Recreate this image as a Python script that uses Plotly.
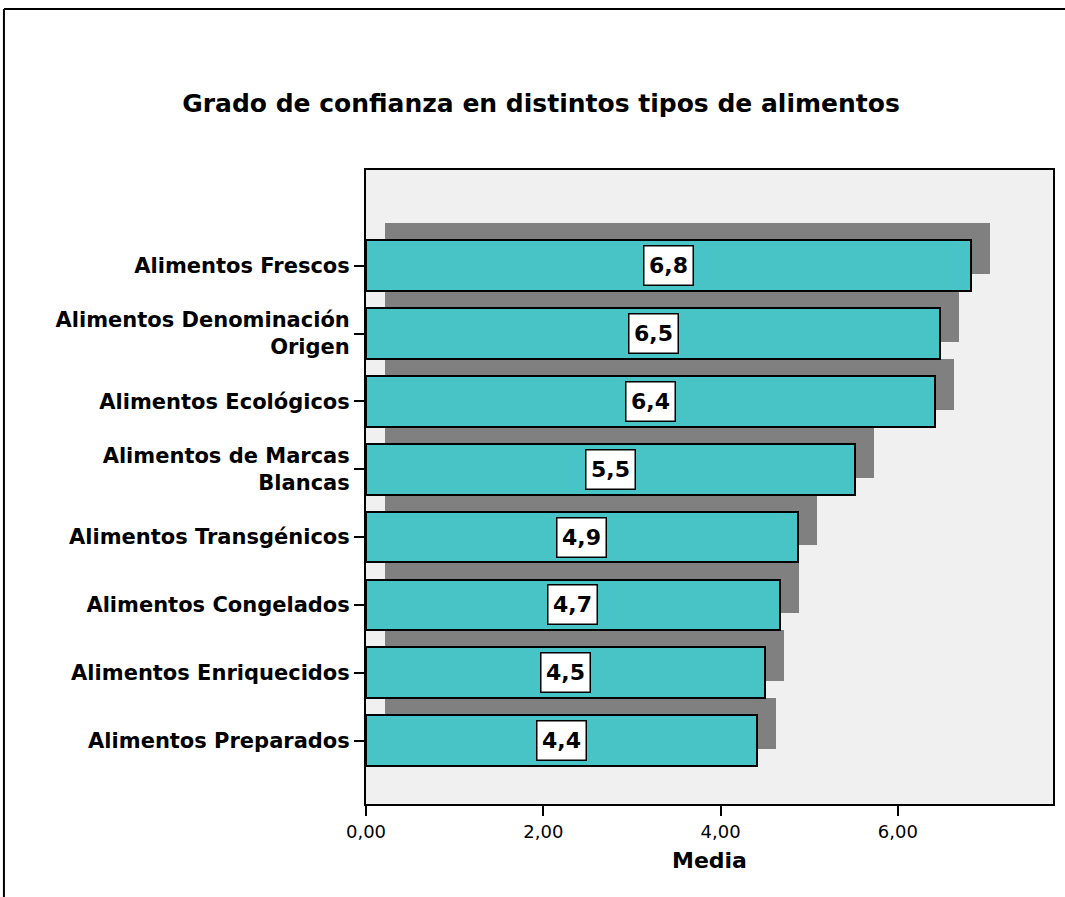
import plotly.graph_objects as go

# data
categories = [
    "Alimentos Frescos",
    "Alimentos Denominación<br>Origen",
    "Alimentos Ecológicos",
    "Alimentos de Marcas<br>Blancas",
    "Alimentos Transgénicos",
    "Alimentos Congelados",
    "Alimentos Enriquecidos",
    "Alimentos Preparados",
]
medias = [6.82, 6.48, 6.42, 5.52, 4.87, 4.67, 4.50, 4.41]
etiquetas = ["6,8", "6,5", "6,4", "5,5", "4,9", "4,7", "4,5", "4,4"]
x_ticks = [0, 2, 4, 6]
x_ticktext = ["0,00", "2,00", "4,00", "6,00"]

FONT = "DejaVu Sans"
TEAL = "#48C3C6"
SHADOW = "#808080"

pos = list(range(len(categories)))
bar_w = 0.748
shadow_dx = 0.214   # drop shadow offset (x units)
shadow_dy = -0.251  # drop shadow offset (category units, upward)

fig = go.Figure()

# drop shadow behind each bar
fig.add_trace(go.Bar(
    y=[p + shadow_dy for p in pos],
    x=medias,
    base=shadow_dx,
    orientation="h",
    width=bar_w,
    marker=dict(color=SHADOW, line=dict(width=0)),
    hoverinfo="skip",
    showlegend=False,
))

fig.add_trace(go.Bar(
    y=pos,
    x=medias,
    orientation="h",
    width=bar_w,
    marker=dict(color=TEAL, line=dict(color="black", width=2)),
    showlegend=False,
))

# white value boxes in the middle of each bar
for p, m, lab in zip(pos, medias, etiquetas):
    fig.add_annotation(
        x=m / 2, y=p, text="<b>%s</b>" % lab, showarrow=False,
        font=dict(family=FONT, size=22, color="black"),
        bgcolor="white", bordercolor="black", borderwidth=1.5,
        width=46, height=36, borderpad=1,
    )

# outer frame lines (top and left) like the original export
fig.add_shape(type="line", xref="paper", yref="paper",
              x0=-0.527, x1=1.02, y0=1.254, y1=1.254,
              line=dict(color="black", width=2))
fig.add_shape(type="line", xref="paper", yref="paper",
              x0=-0.527, x1=-0.527, y0=1.254, y1=-0.2,
              line=dict(color="black", width=2))

fig.update_layout(
    width=1065, height=897,
    margin=dict(l=366, r=10, t=170, b=93),
    paper_bgcolor="white",
    plot_bgcolor="#F0F0F0",
    bargap=0,
    title=dict(
        text="<b>Grado de confianza en distintos tipos de alimentos</b>",
        x=0.508, xref="container", xanchor="center",
        y=0.885, yref="container", yanchor="middle",
        font=dict(family=FONT, size=25, color="black"),
    ),
    font=dict(family=FONT, color="black"),
)

fig.update_xaxes(
    range=[0, 7.75],
    tickvals=x_ticks, ticktext=x_ticktext,
    tickfont=dict(family=FONT, size=18, color="black"),
    ticks="outside", ticklen=10, tickwidth=2, tickcolor="black",
    showline=True, linecolor="black", linewidth=2, mirror=True,
    showgrid=False, zeroline=False,
    title=dict(text="<b>Media</b>", font=dict(family=FONT, size=22, color="black"),
               standoff=12),
)

fig.update_yaxes(
    range=[7.935, -1.41],
    tickvals=pos, ticktext=["<b>%s</b>" % c for c in categories],
    tickfont=dict(family=FONT, size=21, color="black"),
    ticks="outside", ticklen=10, tickwidth=2, tickcolor="black",
    ticklabelstandoff=0,
    showline=True, linecolor="black", linewidth=2, mirror=True,
    showgrid=False, zeroline=False,
)

# page has a default body margin; drop it so the chart sits at the window corner
fig.write_html("out.html", config={"displayModeBar": False},
               post_script="document.body.style.margin='0px';")
